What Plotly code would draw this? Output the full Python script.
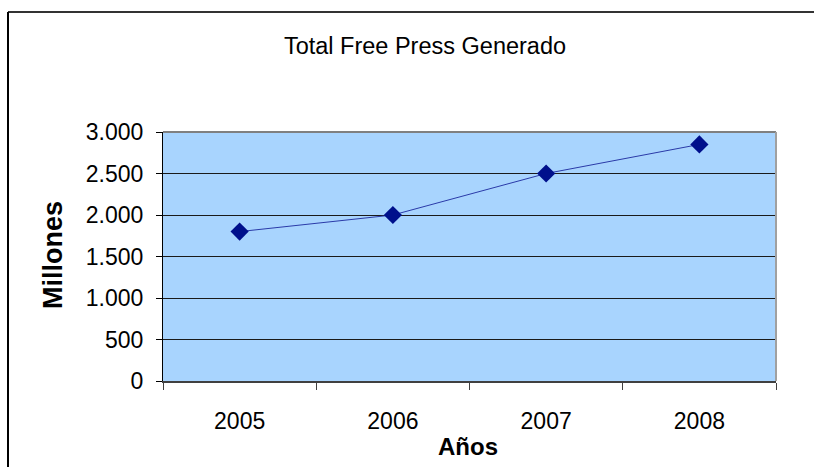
import plotly.graph_objects as go

years = ["2005", "2006", "2007", "2008"]
values = [1800, 2000, 2500, 2850]
y_ticks = [0, 500, 1000, 1500, 2000, 2500, 3000]

W, H = 814, 467
L, R, T, B = 163, 776, 132, 381
pw, ph = R - L, B - T

def px(x):
    return (x - L) / pw

def py(y):
    return (B - y) / ph

FONT = "Liberation Sans, Arial, sans-serif"

fig = go.Figure()
fig.add_trace(go.Scatter(
    x=years, y=values, mode="lines+markers",
    line=dict(color="#2a3aa8", width=1),
    marker=dict(symbol="diamond", size=14, color="#00108c"),
    showlegend=False, cliponaxis=False,
))

fig.update_layout(
    width=W, height=H,
    margin=dict(l=L, r=W - R, t=T, b=H - B),
    paper_bgcolor="white",
    plot_bgcolor="#a8d4fe",
    separators=",.",
    font=dict(family=FONT, color="black", size=20),
    title=dict(text="Total Free Press Generado", x=425 / W, xref="container",
               y=1 - 46 / H, yref="container", xanchor="center", yanchor="middle",
               font=dict(family=FONT, size=23.5, color="black")),
)

fig.update_xaxes(
    type="category", range=[-0.5, 3.5],
    showgrid=False, showline=True, linecolor="#404040", linewidth=2,
    ticks="outside", tickson="boundaries", ticklen=7, tickcolor="#404040", tickwidth=1,
    tickfont=dict(family=FONT, size=23, color="black"),
    ticklabelstandoff=18,
)
fig.update_yaxes(
    range=[0, 3000], tickvals=y_ticks, tickformat=",d",
    showgrid=True, gridcolor="#1a1a1a", gridwidth=1,
    showline=True, linecolor="black", linewidth=1,
    ticks="outside", ticklen=6, tickcolor="black",
    tickfont=dict(family=FONT, size=23, color="black"),
    ticklabelstandoff=8, zeroline=False,
)

# plot-area top/right edge (grey)
fig.add_shape(type="line", xref="paper", yref="paper", x0=0, x1=1, y0=1, y1=1,
              line=dict(color="#808080", width=2))
fig.add_shape(type="line", xref="paper", yref="paper", x0=1, x1=1, y0=0, y1=1,
              line=dict(color="#a0a0a0", width=2))

# outer chart border (top and left visible)
bx, by = px(8), py(12)
fig.add_shape(type="line", xref="paper", yref="paper", x0=bx, x1=px(830), y0=by, y1=by,
              line=dict(color="#333333", width=2))
fig.add_shape(type="line", xref="paper", yref="paper", x0=bx, x1=bx, y0=by, y1=py(480),
              line=dict(color="black", width=2))

fig.add_annotation(text="<b>Millones</b>", textangle=-90, xref="paper", yref="paper",
                   x=px(53), y=py(255), showarrow=False, xanchor="center", yanchor="middle",
                   font=dict(family=FONT, size=27, color="black"))
fig.add_annotation(text="<b>Años</b>", xref="paper", yref="paper",
                   x=px(468), y=py(446), showarrow=False, xanchor="center", yanchor="middle",
                   font=dict(family=FONT, size=24, color="black"))

fig.write_html("out.html")
